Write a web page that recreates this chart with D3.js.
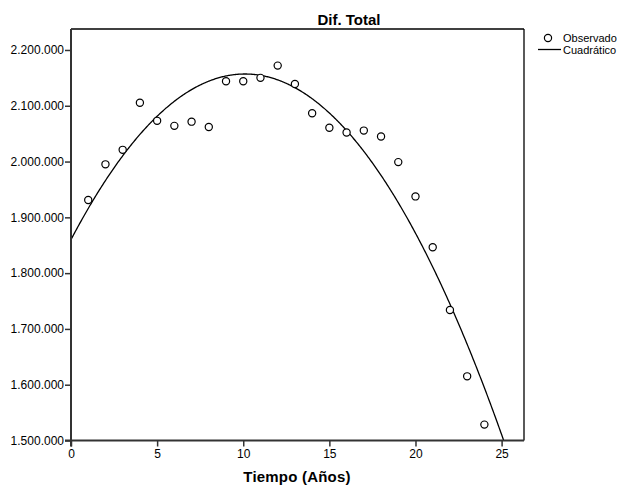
<!DOCTYPE html>
<html>
<head>
<meta charset="utf-8">
<script src="https://cdn.jsdelivr.net/npm/d3@7/dist/d3.min.js"></script>
<style>
  html, body { margin: 0; padding: 0; background: #fff; }
  svg { display: block; font-family: "Liberation Sans", Arial, sans-serif; }
</style>
</head>
<body>
<svg id="chart" width="624" height="486"></svg>
<script>
// ---- Data ----
const years = [1,2,3,4,5,6,7,8,9,10,11,12,13,14,15,16,17,18,19,20,21,22,23,24];
const observed = [1931000,1995000,2021000,2105500,2073000,2064000,2071500,2062000,
                  2144000,2144000,2150000,2172000,2139000,2086500,2060500,2052000,
                  2055500,2045000,1999000,1937500,1846500,1734000,1615000,1528500];
// Quadratic model coefficients (b0 + b1*t + b2*t^2)
const quadCoef = [1860000, 58800, -2911];
const xTicks = [0, 5, 10, 15, 20, 25];
const yTicks = [1500000,1600000,1700000,1800000,1900000,2000000,2100000,2200000];
const titleText = "Dif. Total";
const xTitle = "Tiempo (Años)";
const legendLabels = ["Observado", "Cuadrático"];

// ---- Layout ----
const svg = d3.select("#chart");
const L = 71, R = 524, T = 29, B = 440.5;

const x = d3.scaleLinear().domain([0, 26.3]).range([L, R]);
const y = d3.scaleLinear().domain([1500000, 2237600]).range([B, T]);

const fmt = v => d3.format(",")(v).replace(/,/g, ".");

// clip path
svg.append("defs").append("clipPath").attr("id", "plotclip")
  .append("rect").attr("x", L).attr("y", T).attr("width", R - L).attr("height", B - T);

// frame top & right
svg.append("line").attr("x1", L).attr("x2", R).attr("y1", T).attr("y2", T)
  .attr("stroke", "#000").attr("stroke-width", 1.3);
svg.append("line").attr("x1", R).attr("x2", R).attr("y1", T).attr("y2", B)
  .attr("stroke", "#000").attr("stroke-width", 1.3);

// Curve
const q = t => quadCoef[0] + quadCoef[1] * t + quadCoef[2] * t * t;
const tSamples = d3.range(0, 26.3, 0.05);
const line = d3.line().x(t => x(t)).y(t => y(q(t)));
svg.append("path")
  .attr("clip-path", "url(#plotclip)")
  .attr("d", line(tSamples))
  .attr("fill", "none").attr("stroke", "#000").attr("stroke-width", 1.3);

// Points
svg.append("g").selectAll("circle").data(years).join("circle")
  .attr("cx", (d) => x(d))
  .attr("cy", (d, i) => y(observed[i]))
  .attr("r", 3.6)
  .attr("fill", "#fff").attr("stroke", "#000").attr("stroke-width", 1.2);

// Axes
const yAxis = svg.append("g").attr("transform", `translate(${L},0)`)
  .call(d3.axisLeft(y).tickValues(yTicks).tickFormat(fmt).tickSize(6).tickPadding(1));
const xAxis = svg.append("g").attr("transform", `translate(0,${B})`)
  .call(d3.axisBottom(x).tickValues(xTicks).tickFormat(d3.format("d")).tickSize(6).tickPadding(3));

[yAxis, xAxis].forEach(g => {
  g.select(".domain").attr("stroke", "#333").attr("stroke-width", 2);
  g.selectAll(".tick line").attr("stroke", "#333").attr("stroke-width", 1.5);
  g.selectAll(".tick text").attr("fill", "#000")
    .style("font-family", '"Liberation Sans", Arial, sans-serif').style("font-size", "12px");
});
// make axis domains without outer ticks extending
yAxis.select(".domain").attr("d", `M0,${T}V${B + 6}`);
xAxis.select(".domain").attr("d", `M${L - 6},0H${R}`);

// Title
svg.append("text").attr("x", 349).attr("y", 24.5).attr("text-anchor", "middle")
  .style("font-weight", "bold").style("font-size", "15px").text(titleText);

// X axis title
svg.append("text").attr("x", 297).attr("y", 481.5).attr("text-anchor", "middle")
  .style("font-weight", "bold").style("font-size", "15px").style("letter-spacing", "0.2px")
  .text(xTitle);

// Legend
const lg = svg.append("g");
lg.append("circle").attr("cx", 548).attr("cy", 38).attr("r", 3.6)
  .attr("fill", "#fff").attr("stroke", "#000").attr("stroke-width", 1.2);
lg.append("line").attr("x1", 538).attr("x2", 561).attr("y1", 49.5).attr("y2", 49.5)
  .attr("stroke", "#000").attr("stroke-width", 1.3);
lg.selectAll("text").data(legendLabels).join("text")
  .attr("x", 563).attr("y", (d, i) => 42 + i * 11.5)
  .style("font-size", "11px").text(d => d);
</script>
</body>
</html>
